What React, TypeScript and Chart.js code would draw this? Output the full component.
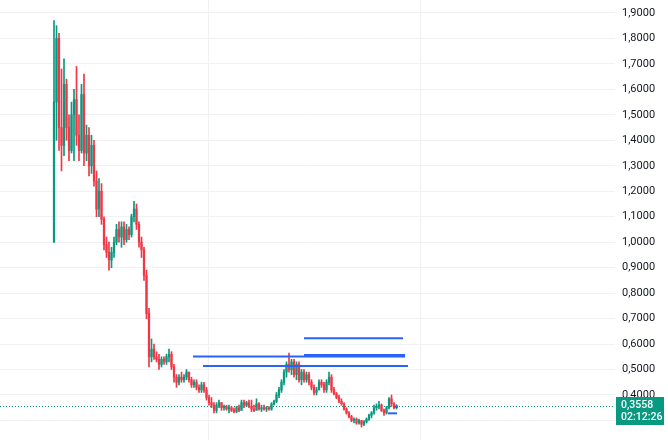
import React, { useEffect, useRef } from "react";
import { Chart, registerables } from "chart.js";

Chart.register(...registerables);

// OHLC candles (price in USD), oldest first
const openPrices = [
  1.00, 1.55, 1.80, 1.45, 1.38, 1.62, 1.45, 1.36, 1.50, 1.56,
  1.42, 1.36, 1.58, 1.35, 1.42, 1.30, 1.38, 1.24, 1.13, 1.20,
  1.09, 0.99, 0.96, 0.93, 0.96, 1.00, 1.05, 1.02, 1.06, 1.01,
  1.05, 1.03, 1.10, 1.13, 1.07, 1.00, 0.97, 0.87, 0.72, 0.55,
  0.58, 0.55, 0.54, 0.52, 0.54, 0.53, 0.55, 0.56, 0.51, 0.47,
  0.45, 0.47, 0.46, 0.47, 0.49, 0.46, 0.44, 0.45, 0.43, 0.42,
  0.44, 0.42, 0.39, 0.37, 0.36, 0.34, 0.36, 0.37, 0.35, 0.355,
  0.345, 0.35, 0.34, 0.335, 0.35, 0.34, 0.37, 0.36, 0.37, 0.355,
  0.345, 0.34, 0.365, 0.345, 0.35, 0.345, 0.35, 0.345, 0.365, 0.375,
  0.40, 0.42, 0.45, 0.49, 0.52, 0.50, 0.53, 0.48, 0.52, 0.46,
  0.49, 0.46, 0.48, 0.45, 0.43, 0.41, 0.42, 0.45, 0.44, 0.42,
  0.45, 0.47, 0.42, 0.405, 0.39, 0.375, 0.365, 0.345, 0.33, 0.315,
  0.30, 0.305, 0.29, 0.30, 0.285, 0.295, 0.305, 0.32, 0.33, 0.35,
  0.355, 0.36, 0.34, 0.33, 0.35, 0.385, 0.365, 0.35,
];
const highPrices = [
  1.87, 1.85, 1.82, 1.68, 1.72, 1.64, 1.50, 1.55, 1.60, 1.69,
  1.50, 1.62, 1.66, 1.46, 1.45, 1.42, 1.40, 1.28, 1.25, 1.23,
  1.10, 1.02, 1.00, 0.98, 1.02, 1.07, 1.08, 1.08, 1.08, 1.07,
  1.06, 1.11, 1.16, 1.15, 1.08, 1.02, 0.98, 0.89, 0.74, 0.62,
  0.60, 0.57, 0.56, 0.55, 0.55, 0.56, 0.58, 0.57, 0.52, 0.48,
  0.48, 0.49, 0.48, 0.50, 0.49, 0.47, 0.46, 0.46, 0.44, 0.45,
  0.45, 0.43, 0.40, 0.39, 0.37, 0.37, 0.38, 0.37, 0.36, 0.36,
  0.36, 0.355, 0.35, 0.355, 0.36, 0.38, 0.38, 0.375, 0.38, 0.38,
  0.36, 0.385, 0.37, 0.36, 0.36, 0.355, 0.355, 0.37, 0.38, 0.41,
  0.43, 0.46, 0.50, 0.53, 0.565, 0.54, 0.54, 0.53, 0.53, 0.50,
  0.50, 0.49, 0.49, 0.46, 0.44, 0.43, 0.46, 0.46, 0.45, 0.46,
  0.49, 0.48, 0.43, 0.41, 0.40, 0.385, 0.37, 0.35, 0.335, 0.32,
  0.31, 0.31, 0.305, 0.30, 0.30, 0.31, 0.325, 0.335, 0.36, 0.365,
  0.375, 0.365, 0.345, 0.355, 0.39, 0.40, 0.37, 0.362,
];
const lowPrices = [
  1.00, 1.40, 1.36, 1.28, 1.34, 1.40, 1.32, 1.35, 1.32, 1.38,
  1.32, 1.35, 1.30, 1.32, 1.26, 1.27, 1.22, 1.10, 1.10, 1.07,
  0.97, 0.94, 0.89, 0.90, 0.94, 0.99, 1.00, 0.98, 0.99, 1.00,
  1.01, 1.02, 1.08, 1.05, 0.98, 0.94, 0.85, 0.70, 0.51, 0.53,
  0.54, 0.53, 0.50, 0.51, 0.52, 0.52, 0.53, 0.50, 0.45, 0.43,
  0.44, 0.45, 0.45, 0.46, 0.45, 0.43, 0.43, 0.42, 0.41, 0.41,
  0.41, 0.38, 0.36, 0.35, 0.33, 0.33, 0.35, 0.34, 0.34, 0.34,
  0.33, 0.335, 0.33, 0.33, 0.335, 0.34, 0.35, 0.355, 0.35, 0.335,
  0.335, 0.34, 0.34, 0.335, 0.34, 0.335, 0.34, 0.34, 0.36, 0.37,
  0.39, 0.41, 0.44, 0.47, 0.49, 0.48, 0.47, 0.46, 0.45, 0.44,
  0.45, 0.45, 0.44, 0.42, 0.40, 0.40, 0.42, 0.43, 0.41, 0.41,
  0.44, 0.41, 0.40, 0.385, 0.37, 0.36, 0.34, 0.325, 0.31, 0.295,
  0.29, 0.285, 0.285, 0.274, 0.28, 0.29, 0.30, 0.31, 0.325, 0.34,
  0.345, 0.335, 0.32, 0.325, 0.345, 0.355, 0.345, 0.345,
];
const closePrices = [
  1.55, 1.80, 1.45, 1.38, 1.62, 1.45, 1.36, 1.50, 1.56, 1.42,
  1.36, 1.58, 1.35, 1.42, 1.30, 1.38, 1.24, 1.13, 1.20, 1.09,
  0.99, 0.96, 0.93, 0.96, 1.00, 1.05, 1.02, 1.06, 1.01, 1.05,
  1.03, 1.10, 1.13, 1.07, 1.00, 0.97, 0.87, 0.72, 0.55, 0.58,
  0.55, 0.54, 0.52, 0.54, 0.53, 0.55, 0.56, 0.51, 0.47, 0.45,
  0.47, 0.46, 0.47, 0.49, 0.46, 0.44, 0.45, 0.43, 0.42, 0.44,
  0.42, 0.39, 0.37, 0.36, 0.34, 0.36, 0.37, 0.35, 0.355, 0.345,
  0.35, 0.34, 0.335, 0.35, 0.34, 0.37, 0.36, 0.37, 0.355, 0.345,
  0.34, 0.365, 0.345, 0.35, 0.345, 0.35, 0.345, 0.365, 0.375, 0.40,
  0.42, 0.45, 0.49, 0.52, 0.50, 0.53, 0.48, 0.52, 0.46, 0.49,
  0.46, 0.48, 0.45, 0.43, 0.41, 0.42, 0.45, 0.44, 0.42, 0.45,
  0.47, 0.42, 0.405, 0.39, 0.375, 0.365, 0.345, 0.33, 0.315, 0.30,
  0.305, 0.29, 0.30, 0.285, 0.295, 0.305, 0.32, 0.33, 0.35, 0.355,
  0.36, 0.34, 0.33, 0.35, 0.385, 0.365, 0.35, 0.3558,
];

// Horizontal drawn levels: price, start bar, end bar, line width
const levelPrices = [0.6228, 0.5514, 0.555, 0.514, 0.3543, 0.328];
const levelStarts = [100, 55.6, 100, 59.6, 136.4, 133.6];
const levelEnds = [139.6, 140.4, 140.4, 141.6, 137.6, 137.2];
const levelWidths = [2, 2, 3, 2, 2, 2];

const yTickValues = [0.3, 0.4, 0.5, 0.6, 0.7, 0.8, 0.9, 1.0, 1.1, 1.2, 1.3, 1.4, 1.5, 1.6, 1.7, 1.8, 1.9];
const xGridBars = [61.6, 146.4];
const lastPrice = 0.3558;
const countdownText = "02:12:26";

const UP = "#089981";
const DOWN = "#F23645";
const GRID = "#eff1f5";
const FONT = "Roboto, 'Noto Sans', sans-serif";

const fmt = (v: number) => v.toFixed(4).replace(".", ",");

export default function App() {
  const ref = useRef<HTMLCanvasElement>(null);

  useEffect(() => {
    document.body.style.margin = "0";
    if (!ref.current) return;
    const idx = openPrices.map((_, i) => i);
    const candleColor = (c: any) => {
      const i = c.dataIndex;
      return closePrices[i] >= openPrices[i] ? UP : DOWN;
    };

    const decor = {
      id: "decor",
      beforeDatasetsDraw(chart: any) {
        const { ctx, chartArea, scales } = chart;
        const y = Math.round(scales.y.getPixelForValue(lastPrice)) + 0.5;
        ctx.save();
        ctx.strokeStyle = UP;
        ctx.lineWidth = 1;
        ctx.setLineDash([1, 2]);
        ctx.beginPath();
        ctx.moveTo(chartArea.left, y);
        ctx.lineTo(chartArea.right, y);
        ctx.stroke();
        ctx.restore();
      },
      afterDraw(chart: any) {
        const { ctx, chartArea, scales } = chart;
        const y = Math.round(scales.y.getPixelForValue(lastPrice));
        const x0 = chartArea.right + 1;
        ctx.save();
        ctx.fillStyle = UP;
        ctx.fillRect(x0, y - 9, 48, 28);
        ctx.fillStyle = "#ffffff";
        ctx.font = `500 10.5px ${FONT}`;
        ctx.textAlign = "left";
        ctx.textBaseline = "middle";
        ctx.fillText(fmt(lastPrice), chartArea.right + 6, y - 1);
        ctx.fillText(countdownText, chartArea.right + 6, y + 11);
        ctx.restore();
      },
    };

    const datasets: any[] = [
      {
        type: "bar",
        data: idx.map((i) => ({ x: i, y: [lowPrices[i], highPrices[i]] })),
        backgroundColor: candleColor,
        barThickness: 1,
        grouped: false,
        borderWidth: 0,
        borderSkipped: false,
        order: 3,
      },
      {
        type: "bar",
        data: idx.map((i) => ({ x: i, y: [openPrices[i], closePrices[i]] })),
        backgroundColor: candleColor,
        barThickness: 1.6,
        grouped: false,
        borderWidth: 0,
        borderSkipped: false,
        minBarLength: 1,
        order: 2,
      },
      ...levelPrices.map((p, j) => ({
        type: "line",
        data: [
          { x: levelStarts[j], y: p },
          { x: levelEnds[j], y: p },
        ],
        borderColor: "#2962FF",
        borderWidth: levelWidths[j],
        pointRadius: 0,
        order: 1,
      })),
    ];

    const chart = new Chart(ref.current, {
      type: "bar",
      data: { datasets },
      plugins: [decor],
      options: {
        animation: false,
        responsive: false,
        maintainAspectRatio: false,
        layout: { padding: 0 },
        plugins: { legend: { display: false }, tooltip: { enabled: false } },
        scales: {
          x: {
            type: "linear",
            offset: false,
            min: -21.6,
            max: 224.4,
            grid: { color: GRID, drawTicks: false, offset: false },
            border: { display: false },
            ticks: { display: false },
            afterBuildTicks: (s: any) => {
              s.ticks = xGridBars.map((v) => ({ value: v }));
            },
            afterFit: (s: any) => {
              s.height = 0;
              s.paddingLeft = 0;
              s.paddingRight = 0;
            },
          },
          y: {
            type: "linear",
            position: "right",
            min: 0.2233,
            max: 1.951,
            grid: { color: GRID, drawTicks: false },
            border: { display: false },
            ticks: {
              padding: 7,
              color: "#131722",
              font: { family: FONT, size: 11 },
              callback: (v: any) => fmt(Number(v)),
            },
            afterBuildTicks: (s: any) => {
              s.ticks = yTickValues.map((v) => ({ value: v }));
            },
            afterFit: (s: any) => {
              s.width = 53;
              s.paddingTop = 0;
              s.paddingBottom = 0;
            },
          },
        },
      } as any,
    });
    return () => chart.destroy();
  }, []);

  return (
    <div style={{ width: 668, height: 440, background: "#ffffff" }}>
      <canvas ref={ref} width={668} height={440} style={{ display: "block" }} />
    </div>
  );
}
